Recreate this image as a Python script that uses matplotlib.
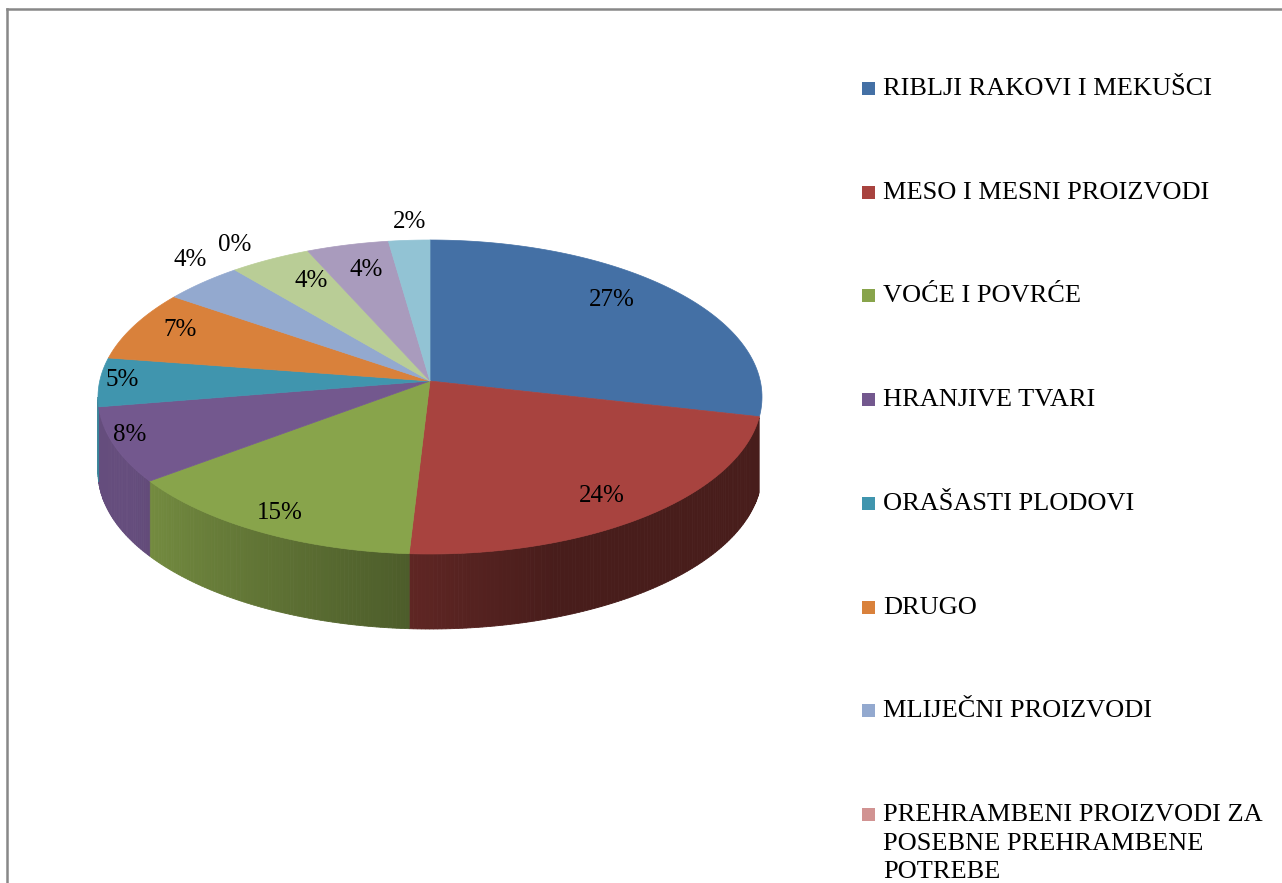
import matplotlib
matplotlib.use('Agg')
import matplotlib.pyplot as plt
import numpy as np
from matplotlib.patches import Polygon, Rectangle
from matplotlib.lines import Line2D
from matplotlib.colors import to_rgb

categories = ['RIBLJI RAKOVI I MEKUŠCI', 'MESO I MESNI PROIZVODI', 'VOĆE I POVRĆE',
              'HRANJIVE TVARI', 'ORAŠASTI PLODOVI', 'DRUGO', 'MLIJEČNI PROIZVODI',
              'PREHRAMBENI PROIZVODI ZA\nPOSEBNE PREHRAMBENE\nPOTREBE', '', '', '']
values = [27, 24, 15, 8, 5, 7, 4, 0, 4, 4, 2]
colors = ['#4470a5', '#a8433f', '#88a44b', '#73588e', '#4095ae', '#d9813b',
          '#93a9cf', '#d19392', '#b9cd96', '#a99bbd', '#92c3d4']
# where each percent label sits, as a fraction of the rim radius (x, y)
label_fx = [0.73, 0.81, 0.89, 0.95, 0.93, 0.845, 1.055, 1.0, 0.74, 0.77, 1.0]
label_fy = [0.87, 0.88, 0.91, 0.93, 0.70, 0.84, 1.135, 1.14, 0.79, 0.79, 1.07]

W, H = 1282, 883
fig = plt.figure(figsize=(W/100, H/100), dpi=100)
ax = fig.add_axes([0, 0, 1, 1])
ax.set_xlim(0, W)
ax.set_ylim(H, 0)
ax.axis('off')

# pie geometry (pixels)
cx, cy = 430, 397
rx, ry = 332, 157
apex_y = 381
depth = 75

def rim(t):
    return cx + rx*np.cos(np.radians(t)), cy - ry*np.sin(np.radians(t))

total = float(sum(values))
starts = []
a = 90.0
for v in values:
    starts.append(a)
    a -= 360*v/total

def shade(t):
    u = (t + 180)/180.0
    return np.clip(0.88 - 0.95*max(u - 0.15, 0), 0.43, 0.88)

# side walls (front half only)
for i, v in enumerate(values):
    a0 = starts[i]
    a1 = a0 - 360*v/total
    for off in (0, -360):
        l, h = max(min(a0, a1) + off, -180), min(max(a0, a1) + off, -7.5)
        if h <= l:
            continue
        ts = np.linspace(l, h, max(int((h - l)/0.7), 2))
        base = np.array(to_rgb(colors[i]))
        for k in range(len(ts) - 1):
            x0, y0 = rim(ts[k])
            x1, y1 = rim(ts[k+1])
            c = base*shade(0.5*(ts[k] + ts[k+1]))
            ax.add_patch(Polygon([(x0, y0), (x1, y1), (x1, y1 + depth), (x0, y0 + depth)],
                                 closed=True, facecolor=c, edgecolor=c, lw=0.6))

# top face
for i, v in enumerate(values):
    if v == 0:
        continue
    a0 = starts[i]
    a1 = a0 - 360*v/total
    ts = np.linspace(a0, a1, max(int(abs(a0 - a1)), 2))
    pts = [(cx, apex_y)] + [rim(t) for t in ts]
    ax.add_patch(Polygon(pts, closed=True, facecolor=colors[i], edgecolor=colors[i], lw=0.5))

# percent labels
for i, v in enumerate(values):
    m = np.radians(starts[i] - 180*v/total)
    x = cx + label_fx[i]*rx*np.cos(m)
    y = 390 - label_fy[i]*ry*np.sin(m)
    ax.text(x, y, '%d%%' % v, fontsize=18, family='Liberation Serif',
            ha='center', va='center', color='black')

# legend (drawn manually, last entries fall off the page)
for i, name in enumerate(categories):
    if not name:
        continue
    y = 88 + i*103.7
    ax.add_patch(Rectangle((862, y - 6), 13, 13, facecolor=colors[i], edgecolor='none'))
    ax.text(883, y - 10, name, fontsize=19, family='Liberation Serif',
            ha='left', va='top', color='black', linespacing=1.4)

# outer frame
fig.add_artist(Line2D([7/W, 7/W], [0, 1 - 9/H], color='#888888', lw=1.8))
fig.add_artist(Line2D([7/W, 1], [1 - 9/H, 1 - 9/H], color='#888888', lw=1.8))

fig.savefig('out.png', dpi=100)
